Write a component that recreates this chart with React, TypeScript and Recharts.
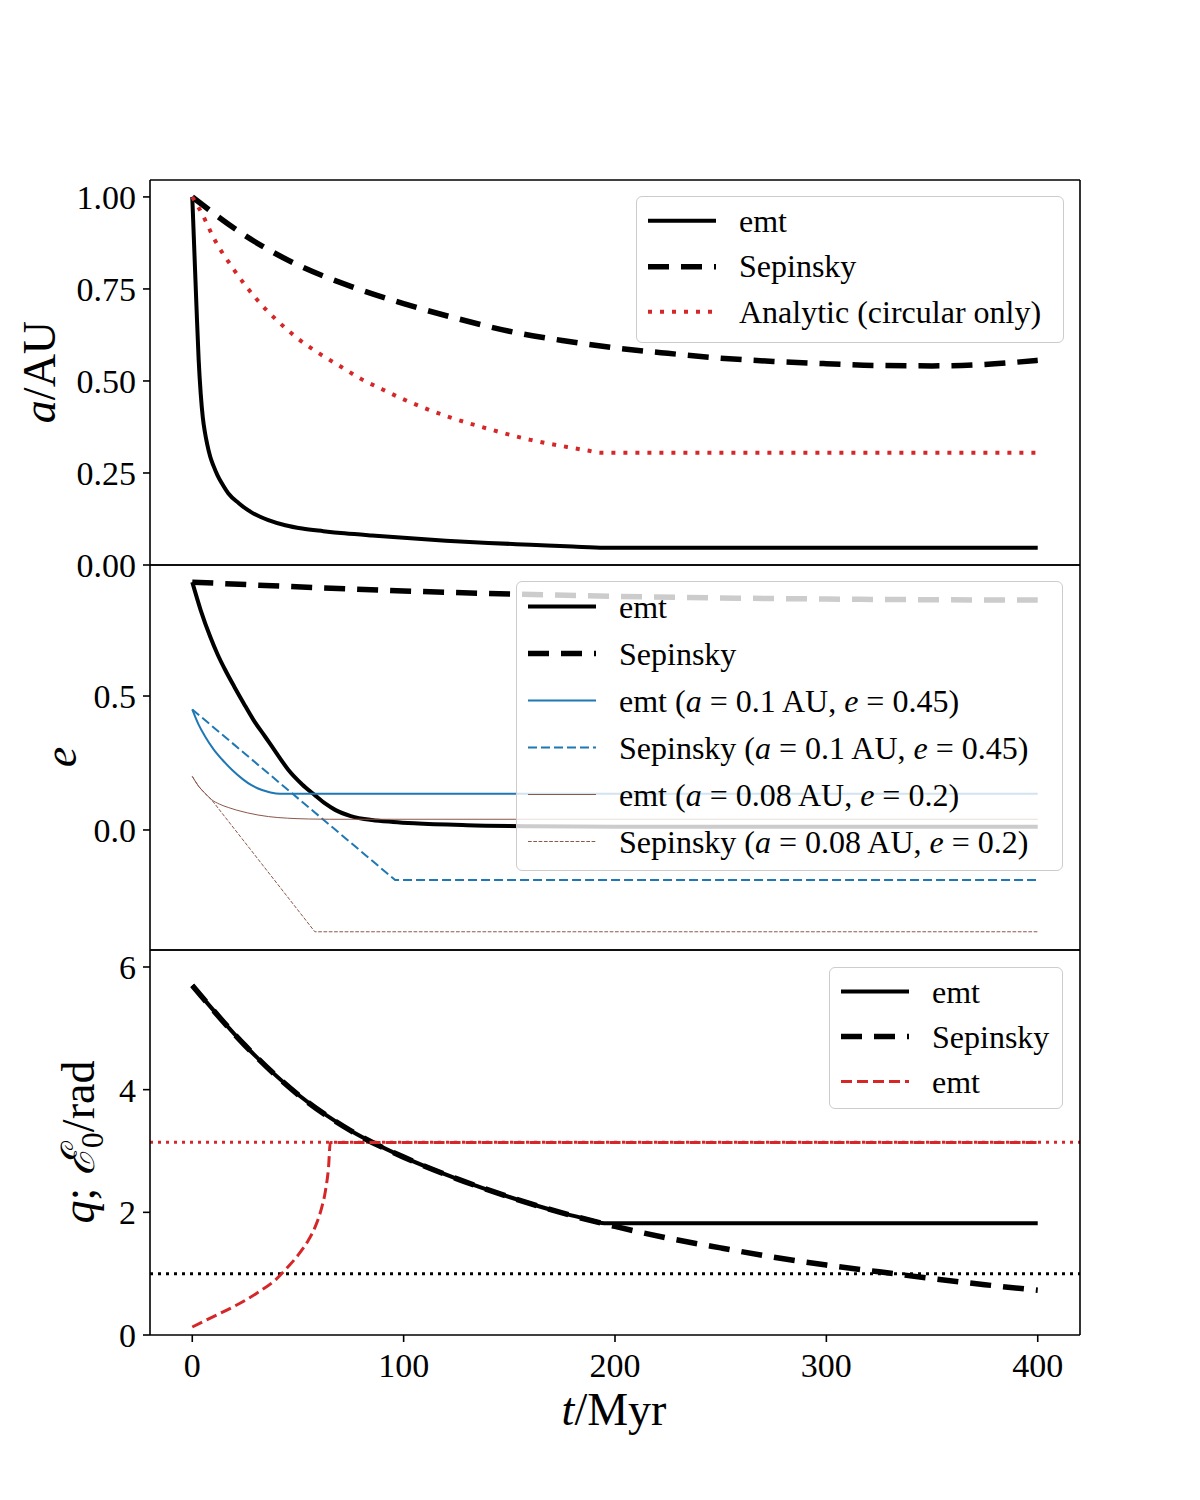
import React from 'react';
import { LineChart, Line, XAxis, YAxis, ReferenceLine, Legend } from 'recharts';

const FONT = '"Liberation Serif", "DejaVu Serif", serif';
const BLACK = '#000000';
const RED = '#d62728';
const BLUE = '#1f77b4';
const BROWN = '#8c564b';

// shared time axis (Myr)
const tDomain = [-20, 420];
const tTicks = [0, 100, 200, 300, 400];

// panel 1: semi-major axis a/AU
const aDomain = [0, 1.046];
const aTicks = [0, 0.25, 0.5, 0.75, 1.0];
const tAEmt = [0, 1, 2, 3, 4, 5, 6, 7, 8.5, 10, 12, 14, 17, 22, 28, 36, 44, 52, 62, 72, 85, 100, 120, 140, 160, 180, 195, 300, 400];
const aEmt = [1.0, 0.85, 0.7, 0.56, 0.465, 0.4, 0.36, 0.33, 0.294, 0.27, 0.243, 0.222, 0.195, 0.168, 0.143, 0.122, 0.108, 0.099, 0.092, 0.086, 0.08, 0.074, 0.066, 0.06, 0.055, 0.05, 0.047, 0.047, 0.047];
const tASep = [0, 25, 50, 75, 100, 125, 150, 175, 200, 225, 250, 275, 300, 325, 350, 375, 400];
const aSep = [1.0, 0.895, 0.815, 0.757, 0.71, 0.67, 0.635, 0.61, 0.59, 0.575, 0.562, 0.553, 0.547, 0.542, 0.541, 0.545, 0.556];
const tAAna = [0, 5, 10, 20, 30, 40, 50, 60, 70, 80, 90, 100, 120, 140, 160, 180, 187, 193, 400];
const aAna = [1.0, 0.95, 0.89, 0.8, 0.725, 0.665, 0.615, 0.575, 0.54, 0.505, 0.477, 0.45, 0.405, 0.37, 0.34, 0.318, 0.311, 0.305, 0.305];

// panel 2: eccentricity e
const eDomain = [-0.448, 0.989];
const eTicks = [0, 0.5];
const tEEmt = [0, 4, 8.5, 12, 15.6, 20, 24.3, 29, 34.5, 40, 45.5, 52, 58, 63, 67.6, 75, 85, 95, 105, 130, 160, 200, 400];
const eEmt = [0.925, 0.82, 0.721, 0.655, 0.597, 0.533, 0.473, 0.41, 0.348, 0.285, 0.224, 0.17, 0.13, 0.098, 0.075, 0.052, 0.037, 0.03, 0.025, 0.018, 0.014, 0.012, 0.012];
const tESep = [0, 100, 200, 300, 400];
const eSep = [0.925, 0.892, 0.872, 0.862, 0.858];
const tEBlue = [0, 3, 6, 10, 14, 19, 24, 28, 33, 37, 41.5, 400];
const eBlue = [0.45, 0.393, 0.35, 0.302, 0.264, 0.223, 0.189, 0.167, 0.149, 0.14, 0.135, 0.135];
const tEBlueSep = [0, 96, 400];
const eBlueSep = [0.45, -0.187, -0.187];
const tEBrown = [0, 3, 6, 9, 13, 17, 21, 26, 31, 36, 45, 55, 65, 400];
const eBrown = [0.2, 0.163, 0.137, 0.114, 0.096, 0.084, 0.074, 0.064, 0.056, 0.05, 0.044, 0.041, 0.04, 0.04];
const tEBrownSep = [0, 3, 6, 9, 58, 400];
const eBrownSep = [0.2, 0.163, 0.137, 0.114, -0.38, -0.38];

// panel 3: q and E0/rad
const qDomain = [0, 6.277];
const qTicks = [0, 2, 4, 6];
const tQEmt = [0, 25, 50, 75, 100, 125, 150, 175, 190, 195, 250, 300, 350, 400];
const qEmt = [5.7, 4.72, 3.92, 3.33, 2.9, 2.55, 2.25, 1.99, 1.86, 1.82, 1.82, 1.82, 1.82, 1.82];
const tQSep = [0, 25, 50, 75, 100, 125, 150, 175, 200, 225, 250, 275, 300, 325, 350, 375, 400];
const qSep = [5.7, 4.72, 3.92, 3.33, 2.9, 2.55, 2.25, 1.99, 1.77, 1.58, 1.42, 1.27, 1.14, 1.03, 0.92, 0.82, 0.73];
const tE0 = [0, 10, 20, 30, 40, 45, 50, 55, 58, 61, 63, 64.5, 65.3, 400];
const e0Emt = [0.13, 0.3, 0.47, 0.67, 0.92, 1.1, 1.3, 1.55, 1.75, 2.05, 2.35, 2.75, 3.14, 3.14];
const e0Limit = Math.PI;
const qLimit = 1.0;

const pts = (t: number[], v: number[]) => t.map((x, i) => ({ t: x, v: v[i] }));

// line styles
const sEmt = { stroke: BLACK, strokeWidth: 4 };
const sSep = { stroke: BLACK, strokeWidth: 5.5, strokeDasharray: '21 12' };
const sAna = { stroke: RED, strokeWidth: 4, strokeDasharray: '4 8' };
const sBlue = { stroke: BLUE, strokeWidth: 2 };
const sBlueSep = { stroke: BLUE, strokeWidth: 2, strokeDasharray: '9 4' };
const sBrown = { stroke: BROWN, strokeWidth: 1 };
const sBrownSep = { stroke: BROWN, strokeWidth: 1, strokeDasharray: '3.7 1.6' };
const sE0 = { stroke: RED, strokeWidth: 3, strokeDasharray: '11 5' };

const axisStyle = { stroke: BLACK, strokeWidth: 1.6 };
const tickFont = { fontFamily: FONT, fontSize: 34, fill: BLACK };

const I = ({ children }: { children: React.ReactNode }) => <span style={{ fontStyle: 'italic' }}>{children}</span>;

type Item = { label: React.ReactNode; style: any };

const LegendBox = ({ items, width, height, rowH }: { items: Item[]; width: number; height: number; rowH: number }) => (
  <div
    style={{
      width,
      height,
      boxSizing: 'border-box',
      border: '1.5px solid #cccccc',
      borderRadius: 6,
      background: 'rgba(255,255,255,0.8)',
      fontFamily: FONT,
      fontSize: 32,
      paddingTop: 1,
      color: BLACK,
    }}
  >
    {items.map((it, i) => (
      <div key={i} style={{ display: 'flex', alignItems: 'center', height: rowH }}>
        <svg width={80} height={rowH} style={{ flex: 'none' }}>
          <line x1={11} x2={79} y1={rowH / 2} y2={rowH / 2} {...it.style} />
        </svg>
        <span style={{ marginLeft: 22, whiteSpace: 'nowrap', lineHeight: 1 }}>{it.label}</span>
      </div>
    ))}
  </div>
);

// rotated y label, x is the text baseline
const yLabel = (text: React.ReactNode, bx: number, cy: number) => ({
  content: () => (
    <text
      x={bx}
      y={cy}
      transform={`rotate(-90, ${bx}, ${cy})`}
      textAnchor="middle"
      fontFamily={FONT}
      fontSize={46}
      fill={BLACK}
    >
      {text}
    </text>
  ),
});

const xLabel = {
  content: () => (
    <text x={614} y={495} textAnchor="middle" fontFamily={FONT} fontSize={46} fill={BLACK}>
      <tspan fontStyle="italic">t</tspan>/Myr
    </text>
  ),
};

const Frame = ({ domain, ticks, fmt, label, bottomHeight, showX }: any) => [
  <XAxis
    key="xb"
    type="number"
    dataKey="t"
    domain={tDomain}
    ticks={tTicks}
    allowDataOverflow
    height={bottomHeight}
    tickSize={7}
    tickMargin={11}
    tick={showX ? tickFont : false}
    axisLine={axisStyle}
    tickLine={axisStyle}
    label={showX ? xLabel : undefined}
  />,
  <XAxis
    key="xt"
    xAxisId="top"
    orientation="top"
    type="number"
    dataKey="t"
    domain={tDomain}
    ticks={tTicks}
    allowDataOverflow
    height={20}
    tickSize={7}
    tick={false}
    axisLine={axisStyle}
    tickLine={axisStyle}
  />,
  <YAxis
    key="yl"
    type="number"
    domain={domain}
    ticks={ticks}
    allowDataOverflow
    width={150}
    tickSize={7}
    tickMargin={7}
    tick={tickFont}
    tickFormatter={fmt}
    axisLine={axisStyle}
    tickLine={axisStyle}
    label={label}
  />,
  <YAxis
    key="yr"
    yAxisId="r"
    orientation="right"
    type="number"
    domain={domain}
    ticks={ticks}
    allowDataOverflow
    width={10}
    tickSize={7}
    tick={false}
    axisLine={axisStyle}
    tickLine={axisStyle}
  />,
];

const line = (data: any[], style: any, key: string, curve: any = 'monotone') => (
  <Line
    key={key}
    data={data}
    dataKey="v"
    type={curve}
    dot={false}
    activeDot={false}
    isAnimationActive={false}
    legendType="none"
    {...style}
  />
);

const App = () => {
  const margin = { top: 0, right: 110, bottom: 0, left: 0 };
  return (
    <div style={{ position: 'absolute', left: 0, top: 0, width: 1200, height: 1500, background: '#ffffff' }}>
      <div style={{ position: 'absolute', left: 0, top: 160 }}>
        <LineChart width={1200} height={425} margin={margin}>
          {Frame({
            domain: aDomain,
            ticks: aTicks,
            fmt: (v: number) => v.toFixed(2),
            label: yLabel(<><tspan fontStyle="italic">a</tspan>/AU</>, 55, 212),
            bottomHeight: 20,
            showX: false,
          })}
          {line(pts(tAEmt, aEmt), sEmt, 'aemt')}
          {line(pts(tASep, aSep), sSep, 'asep')}
          {line(pts(tAAna, aAna), sAna, 'aana')}
          <Legend
            layout="horizontal"
            verticalAlign="middle"
            align="center"
            wrapperStyle={{ left: 636, top: 36, width: 428, height: 147 }}
            content={() => (
              <LegendBox
                width={428}
                height={147}
                rowH={45.5}
                items={[
                  { label: 'emt', style: sEmt },
                  { label: 'Sepinsky', style: sSep },
                  { label: 'Analytic (circular only)', style: sAna },
                ]}
              />
            )}
          />
        </LineChart>
      </div>

      <div style={{ position: 'absolute', left: 0, top: 545 }}>
        <LineChart width={1200} height={425} margin={margin}>
          {Frame({
            domain: eDomain,
            ticks: eTicks,
            fmt: (v: number) => v.toFixed(1),
            label: yLabel(<tspan fontStyle="italic">e</tspan>, 76, 212),
            bottomHeight: 20,
            showX: false,
          })}
          {line(pts(tEEmt, eEmt), sEmt, 'eemt')}
          {line(pts(tESep, eSep), sSep, 'esep')}
          {line(pts(tEBlue, eBlue), sBlue, 'eblue')}
          {line(pts(tEBlueSep, eBlueSep), sBlueSep, 'ebluesep', 'linear')}
          {line(pts(tEBrown, eBrown), sBrown, 'ebrown')}
          {line(pts(tEBrownSep, eBrownSep), sBrownSep, 'ebrownsep', 'linear')}
          <Legend
            layout="horizontal"
            verticalAlign="middle"
            align="center"
            wrapperStyle={{ left: 516, top: 36, width: 547, height: 290 }}
            content={() => (
              <LegendBox
                width={547}
                height={290}
                rowH={47}
                items={[
                  { label: 'emt', style: sEmt },
                  { label: 'Sepinsky', style: sSep },
                  { label: <>emt (<I>a</I> = 0.1 AU, <I>e</I> = 0.45)</>, style: sBlue },
                  { label: <>Sepinsky (<I>a</I> = 0.1 AU, <I>e</I> = 0.45)</>, style: sBlueSep },
                  { label: <>emt (<I>a</I> = 0.08 AU, <I>e</I> = 0.2)</>, style: sBrown },
                  { label: <>Sepinsky (<I>a</I> = 0.08 AU, <I>e</I> = 0.2)</>, style: sBrownSep },
                ]}
              />
            )}
          />
        </LineChart>
      </div>

      <div style={{ position: 'absolute', left: 0, top: 930 }}>
        <LineChart width={1200} height={515} margin={margin}>
          {Frame({
            domain: qDomain,
            ticks: qTicks,
            fmt: (v: number) => String(v),
            label: yLabel(
              <>
                <tspan fontStyle="italic">q</tspan>; <tspan fontStyle="italic">ℰ</tspan>
                <tspan fontSize={32} dy={9}>0</tspan>
                <tspan dy={-9}>/rad</tspan>
              </>,
              94,
              212
            ),
            bottomHeight: 110,
            showX: true,
          })}
          <ReferenceLine y={e0Limit} stroke={RED} strokeWidth={3} strokeDasharray="3 5" />
          <ReferenceLine y={qLimit} stroke={BLACK} strokeWidth={3} strokeDasharray="3 5" />
          {line(pts(tQEmt, qEmt), sEmt, 'qemt')}
          {line(pts(tQSep, qSep), sSep, 'qsep')}
          {line(pts(tE0, e0Emt), sE0, 'e0emt')}
          <Legend
            layout="horizontal"
            verticalAlign="middle"
            align="center"
            wrapperStyle={{ left: 829, top: 37, width: 234, height: 142 }}
            content={() => (
              <LegendBox
                width={234}
                height={142}
                rowH={45}
                items={[
                  { label: 'emt', style: sEmt },
                  { label: 'Sepinsky', style: sSep },
                  { label: 'emt', style: sE0 },
                ]}
              />
            )}
          />
        </LineChart>
      </div>
    </div>
  );
};

export default App;
